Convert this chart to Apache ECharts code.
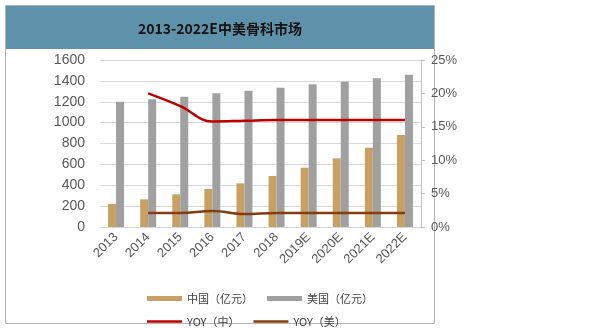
<!DOCTYPE html>
<html><head><meta charset="utf-8">
<script src="https://cdn.jsdelivr.net/npm/echarts@6/dist/echarts.min.js"></script>
<style>html,body{margin:0;padding:0;background:#fff}#c{width:600px;height:328px}</style>
</head><body><div id="c"></div>
<script>
var categories = ['2013','2014','2015','2016','2017','2018','2019E','2020E','2021E','2022E'];
var chinaMarket = [222, 265, 313, 364, 418, 489, 568, 658, 760, 881];
var usMarket = [1200, 1223, 1248, 1281, 1306, 1335, 1367, 1392, 1424, 1459];
var yoyChina = [null, 20.0, 18.1, 15.8, 15.9, 16.0, 16.0, 16.0, 16.0, 16.0];
var yoyUS = [null, 2.1, 2.1, 2.4, 1.95, 2.1, 2.1, 2.1, 2.1, 2.1];
var leftTicks = [0, 200, 400, 600, 800, 1000, 1200, 1400, 1600];
var rightTicks = [0, 5, 10, 15, 20, 25];
var titleText = '2013-2022E中美骨科市场';

var chart = echarts.init(document.getElementById('c'), null, {renderer: 'canvas'});
var axisFont = 'Liberation Sans, Arial, sans-serif';
var cjkFont = 'Noto Sans CJK SC, sans-serif';
chart.setOption({
  animation: false,
  graphic: [
    {type: 'rect', shape: {x: 5.5, y: 5.5, width: 429, height: 318}, style: {fill: '#fff', stroke: '#b4b4b4', lineWidth: 1}, z: -10},
    {type: 'rect', shape: {x: 6, y: 6, width: 428, height: 43}, style: {fill: '#5e92aa'}, z: -9},
    {type: 'text', x: 220, y: 29, style: {text: titleText, fill: '#111', font: '600 14px ' + cjkFont, align: 'center', verticalAlign: 'middle'}, z: 5}
  ],
  grid: {left: 100, right: 179, top: 60, bottom: 101},
  legend: [
    {data: ['中国（亿元）', '美国（亿元）'], left: 142, top: 288, itemWidth: 35, itemHeight: 5, itemGap: 14, icon: 'rect',
     textStyle: {fontSize: 11, color: '#404040', fontFamily: cjkFont, width: 66}},
    {data: ['YOY（中）', 'YOY（美）'], left: 142, top: 311, itemWidth: 35, itemHeight: 2.5, itemGap: 14, icon: 'rect',
     textStyle: {fontSize: 11, color: '#404040', fontFamily: cjkFont, width: 66}}
  ],
  xAxis: {
    type: 'category', data: categories,
    axisLine: {show: true, lineStyle: {color: '#d9d9d9'}},
    axisTick: {show: false},
    axisLabel: {rotate: 45, fontSize: 13, color: '#595959', fontFamily: axisFont, margin: 8, interval: 0}
  },
  yAxis: [
    {type: 'value', min: leftTicks[0], max: leftTicks[leftTicks.length - 1], interval: leftTicks[1] - leftTicks[0],
     axisLine: {show: false}, axisTick: {show: false},
     splitLine: {lineStyle: {color: '#d9d9d9'}},
     axisLabel: {fontSize: 14, color: '#595959', fontFamily: axisFont, margin: 15, formatter: function (v) { return String(v); }}},
    {type: 'value', position: 'right', min: rightTicks[0], max: rightTicks[rightTicks.length - 1], interval: rightTicks[1] - rightTicks[0],
     axisLine: {show: true, lineStyle: {color: '#bfbfbf'}},
     axisTick: {show: true, inside: false, length: 4, lineStyle: {color: '#bfbfbf'}},
     splitLine: {show: false},
     axisLabel: {fontSize: 13, color: '#595959', fontFamily: axisFont, margin: 10, formatter: '{value}%'}}
  ],
  series: [
    {name: '中国（亿元）', type: 'bar', data: chinaMarket, barWidth: 8, barGap: '0%', itemStyle: {color: '#c9a063'}},
    {name: '美国（亿元）', type: 'bar', data: usMarket, barWidth: 8, barGap: '0%', itemStyle: {color: '#a0a0a0'}},
    {name: 'YOY（中）', type: 'line', yAxisIndex: 1, data: yoyChina, smooth: 0.4, symbol: 'none',
     lineStyle: {color: '#c00000', width: 2.5}, itemStyle: {color: '#c00000'}},
    {name: 'YOY（美）', type: 'line', yAxisIndex: 1, data: yoyUS, smooth: 0.4, symbol: 'none',
     lineStyle: {color: '#843c0c', width: 2.5}, itemStyle: {color: '#843c0c'}}
  ]
});
</script></body></html>
